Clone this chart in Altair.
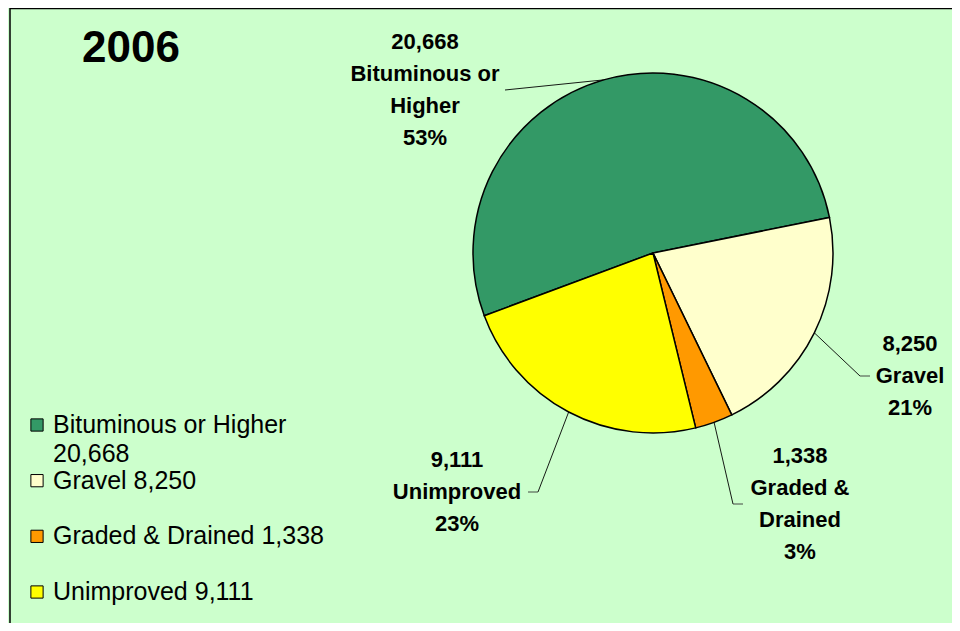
import math
import altair as alt
import pandas as pd

# ---------------- data ----------------
categories = ["Bituminous or Higher", "Gravel", "Graded & Drained", "Unimproved"]
values = [20668, 8250, 1338, 9111]
colors = ["#339966", "#FFFFCC", "#FF9900", "#FFFF00"]
label_lines = [
    ["20,668", "Bituminous or", "Higher", "53%"],
    ["8,250", "Gravel", "21%"],
    ["1,338", "Graded &", "Drained", "3%"],
    ["9,111", "Unimproved", "23%"],
]
legend_labels = ["Bituminous or Higher\n20,668", "Gravel 8,250", "Graded & Drained 1,338", "Unimproved 9,111"]
title_text = "2006"

# ---------------- layout (pixels) ----------------
W, H = 944, 615
CX, CY, R = 645, 245, 180
START = math.radians(249.6)
LAB_OFF = [(-228, -163), (257, 123), (147, 251), (-196, 239)]  # label block centre from pie centre
ANCHOR_OFF = [80, -40, -57, 71]   # leader end relative to label centre (x)
TICK = [0, -10, -10, 10]          # short horizontal tick of the leader
LH = 32                           # label line height
FONT = "Liberation Sans"

df = pd.DataFrame({
    "category": categories,
    "value": values,
    "order": list(range(len(categories))),
    "label": ["\n".join(l) for l in label_lines],
    "legend": legend_labels,
})
df["lab_x"] = [CX + d[0] for d in LAB_OFF]
df["lab_y"] = [CY + d[1] for d in LAB_OFF]
df["txt_y"] = [CY + d[1] - (len(l) - 1) * LH / 2 for d, l in zip(LAB_OFF, label_lines)]
df["anc_x"] = df["lab_x"] + pd.Series(ANCHOR_OFF)
df["elb_x"] = df["anc_x"] + pd.Series(TICK)

color = alt.Color("category:N", scale=alt.Scale(domain=categories, range=colors), legend=None)
base = alt.Chart(df)

pie = base.mark_arc(outerRadius=R, stroke="black", strokeWidth=1.5).encode(
    theta=alt.Theta("value:Q", stack=True,
                    scale=alt.Scale(range=[START, START + 2 * math.pi])),
    color=color,
    order=alt.Order("order:Q"),
    x=alt.value(CX),
    y=alt.value(CY),
)

geo = base.transform_joinaggregate(total="sum(value)").transform_window(
    cum="sum(value)", sort=[alt.SortField("order")], frame=[None, 0]
).transform_calculate(
    mid=f"{START} + 2*PI*(datum.cum - datum.value/2)/datum.total"
).transform_calculate(
    ex=f"{CX} + {R}*sin(datum.mid)",
    ey=f"{CY} - {R}*cos(datum.mid)",
)

leader1 = geo.mark_rule(color="black", strokeWidth=0.9).encode(
    x=alt.X("ex:Q", scale=None), y=alt.Y("ey:Q", scale=None),
    x2="elb_x:Q", y2="lab_y:Q",
)
leader2 = base.mark_rule(color="#333333", strokeWidth=0.9).encode(
    x=alt.X("elb_x:Q", scale=None), x2="anc_x:Q", y=alt.Y("lab_y:Q", scale=None),
)

labels = base.mark_text(
    font=FONT, fontSize=22, fontWeight="bold", lineBreak="\n", lineHeight=LH,
    align="center", baseline="middle", color="black",
).encode(
    x=alt.X("lab_x:Q", scale=None), y=alt.Y("txt_y:Q", scale=None), text="label:N",
)

title = alt.Chart(pd.DataFrame({"t": [title_text]})).mark_text(
    font=FONT, fontSize=44, fontWeight="bold", align="center", baseline="middle", color="black",
).encode(x=alt.value(123), y=alt.value(41), text="t:N")

leg_y = alt.Y("order:O", scale=alt.Scale(type="point", range=[417, 584], padding=0), axis=None)
leg_sym = base.mark_square(size=150, stroke="black", strokeWidth=1, opacity=1).encode(
    x=alt.value(29), y=leg_y, color=color,
)
leg_txt = base.mark_text(
    font=FONT, fontSize=25, align="left", baseline="alphabetic", dy=8,
    lineBreak="\n", lineHeight=29, color="black",
).encode(x=alt.value(45), y=leg_y, text="legend:N")

border_left = alt.Chart(pd.DataFrame({"a": [0]})).mark_rule(color="black", strokeWidth=1.5).encode(
    x=alt.value(2), y=alt.value(0), y2=alt.value(H)
)
border_top = alt.Chart(pd.DataFrame({"a": [0]})).mark_rule(color="black", strokeWidth=1.5).encode(
    x=alt.value(2), x2=alt.value(W), y=alt.value(0.5)
)

chart = alt.layer(
    pie, leader1, leader2, labels, title, leg_sym, leg_txt, border_left, border_top
).resolve_scale(
    x="independent", y="independent"
).properties(
    width=W, height=H, autosize=alt.AutoSizeParams(type="none"), padding=0,
).configure(background="#CCFFCC").configure_view(stroke="transparent", strokeWidth=0)

chart.save("out.html", embed_options={"renderer": "svg", "actions": False})
